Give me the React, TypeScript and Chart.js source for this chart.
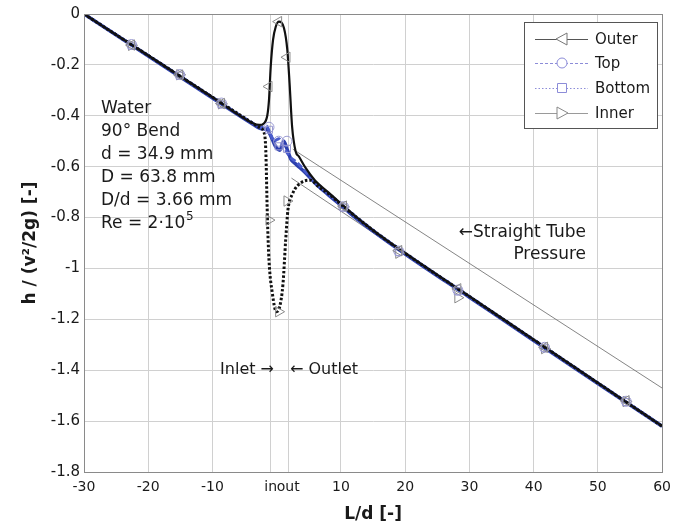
import React, { useEffect, useRef } from "react";
import { Chart, registerables } from "chart.js";

Chart.register(...registerables);

// ---------- axis ticks ----------
const X_TICKS = [-30, -20, -10, -0.93, 1.8, 10, 20, 30, 40, 50, 60];
const X_TICK_LABELS = ["-30", "-20", "-10", "in", "out", "10", "20", "30", "40", "50", "60"];
const Y_TICKS = [0, -0.2, -0.4, -0.6, -0.8, -1, -1.2, -1.4, -1.6, -1.8];
const Y_TICK_LABELS = ["0", "-0.2", "-0.4", "-0.6", "-0.8", "-1", "-1.2", "-1.4", "-1.6", "-1.8"];

// ---------- measured points (markers) ----------
const MEAS_X = [-22.6, -15.1, -8.6, -1.2, 0.3, 1.6, 10.4, 19, 28.2, 41.7, 54.4];
const OUTER_MEAS = [-0.122, -0.24, -0.352, -0.285, -0.03, -0.17, -0.755, -0.93, -1.08, -1.31, -1.52];
const TOP_MEAS = [-0.12, -0.238, -0.35, -0.445, -0.5, -0.5, -0.757, -0.932, -1.085, -1.31, -1.522];
const BOTTOM_MEAS = [-0.124, -0.242, -0.355, -0.455, -0.52, -0.53, -0.76, -0.935, -1.09, -1.312, -1.525];
const INNER_MEAS = [-0.123, -0.239, -0.353, -0.81, -1.17, -0.735, -0.758, -0.94, -1.115, -1.315, -1.523];

// ---------- fitted curves ----------
const OUTER_FIT_X = [-30, -20, -10, -3.8, -2.7, -2.0, -1.45, -1.2, -0.93, -0.57, -0.15, 0.36, 1.13, 1.65, 2.0, 2.4, 2.95, 3.46, 4.5, 6, 8, 10, 12, 15, 20, 30, 40, 50, 60];
const OUTER_FIT_Y = [0, -0.163, -0.327, -0.428, -0.436, -0.43, -0.397, -0.338, -0.207, -0.102, -0.05, -0.03, -0.055, -0.14, -0.27, -0.443, -0.54, -0.56, -0.605, -0.655, -0.7, -0.745, -0.79, -0.85, -0.94, -1.11, -1.28, -1.45, -1.62];

const INNER_FIT_X = [-30, -20, -10, -3.8, -2.6, -2.0, -1.7, -1.45, -1.2, -0.68, -0.06, 0.47, 0.98, 1.4, 1.75, 2.4, 3.97, 5.26, 6.56, 8, 10, 12, 15, 20, 30, 40, 50, 60];
const INNER_FIT_Y = [0, -0.163, -0.327, -0.428, -0.447, -0.463, -0.535, -0.797, -0.967, -1.097, -1.17, -1.15, -1.06, -0.888, -0.77, -0.71, -0.66, -0.653, -0.68, -0.705, -0.748, -0.79, -0.85, -0.94, -1.11, -1.28, -1.45, -1.62];

const TOP_FIT_X = [-30, -20, -10, -4, -2.5, -1.6, -1.0, -0.4, 0.3, 0.9, 1.5, 2.2, 3.0, 4.5, 6, 8, 10, 12, 15, 20, 30, 40, 50, 60];
const TOP_FIT_Y = [0, -0.163, -0.327, -0.425, -0.445, -0.44, -0.47, -0.5, -0.49, -0.51, -0.54, -0.565, -0.58, -0.62, -0.66, -0.705, -0.748, -0.79, -0.85, -0.94, -1.11, -1.28, -1.45, -1.62];

const BOTTOM_FIT_X = [-30, -20, -10, -4, -2.5, -1.5, -0.9, -0.2, 0.5, 1.1, 1.6, 2.2, 3.0, 4.5, 6, 8, 10, 12, 15, 20, 30, 40, 50, 60];
const BOTTOM_FIT_Y = [0, -0.165, -0.33, -0.428, -0.45, -0.455, -0.48, -0.52, -0.535, -0.5, -0.53, -0.57, -0.59, -0.625, -0.665, -0.71, -0.752, -0.795, -0.853, -0.943, -1.113, -1.283, -1.452, -1.62];

// straight tube reference lines
const STRAIGHT_UP_X = [2.5, 60];
const STRAIGHT_UP_Y = [-0.531, -1.47];
const STRAIGHT_DOWN_X = [2.3, 60];
const STRAIGHT_DOWN_Y = [-0.645, -1.62];

// ---------- texts ----------
const LEGEND_LABELS = ["Outer", "Top", "Bottom", "Inner"];
const INFO_LINES = ["Water", "90° Bend", "d = 34.9 mm", "D = 63.8 mm", "D/d = 3.66 mm"];
const RE_TEXT = "Re = 2·10";
const RE_EXP = "5";
const X_TITLE = "L/d [-]";
const Y_TITLE = "h / (v²/2g) [-]";

const FONT = '"DejaVu Sans", "Liberation Sans", Arial, sans-serif';

const pts = (xs: number[], ys: number[]) => xs.map((x, i) => ({ x, y: ys[i] }));

const overlay = {
  id: "overlay",
  afterDraw(chart: any) {
    const { ctx, chartArea: ca } = chart;
    ctx.save();
    // frame
    ctx.strokeStyle = "#8a8a8a";
    ctx.lineWidth = 1;
    ctx.setLineDash([]);
    ctx.strokeRect(Math.round(ca.left) + 0.5, Math.round(ca.top) + 0.5, Math.round(ca.right - ca.left), Math.round(ca.bottom - ca.top));

    // info block
    ctx.fillStyle = "#1a1a1a";
    ctx.font = `17px ${FONT}`;
    ctx.textAlign = "left";
    ctx.textBaseline = "alphabetic";
    INFO_LINES.forEach((t, i) => ctx.fillText(t, 101, 113 + i * 23));
    const reY = 113 + INFO_LINES.length * 23;
    ctx.fillText(RE_TEXT, 101, reY);
    const w = ctx.measureText(RE_TEXT).width;
    ctx.font = `12px ${FONT}`;
    ctx.fillText(RE_EXP, 101 + w + 0.5, reY - 8);

    // straight tube label
    ctx.font = `17px ${FONT}`;
    ctx.textAlign = "right";
    ctx.fillText("←Straight Tube", 586, 237);
    ctx.fillText("Pressure", 586, 259);

    // inlet / outlet
    ctx.font = `16px ${FONT}`;
    ctx.textAlign = "right";
    ctx.fillText("Inlet →", 274, 374);
    ctx.textAlign = "left";
    ctx.fillText("← Outlet", 290, 374);

    // legend
    const lx = 524.5, ly = 22.5, lw = 133, lh = 106;
    ctx.fillStyle = "#ffffff";
    ctx.fillRect(lx, ly, lw, lh);
    ctx.strokeStyle = "#555";
    ctx.lineWidth = 1;
    ctx.strokeRect(lx, ly, lw, lh);
    const rows = [39, 63, 88, 113];
    const styles = [
      { color: "#555", dash: [] as number[], mcolor: "#777" },
      { color: "#8c8cd8", dash: [3, 2], mcolor: "#8c8cd8" },
      { color: "#8c8cd8", dash: [1.5, 2], mcolor: "#8c8cd8" },
      { color: "#9a9a9a", dash: [] as number[], mcolor: "#888" },
    ];
    rows.forEach((y, i) => {
      const s = styles[i];
      ctx.strokeStyle = s.color;
      ctx.lineWidth = 1;
      ctx.setLineDash(s.dash);
      ctx.beginPath();
      ctx.moveTo(535, y + 0.5);
      ctx.lineTo(588, y + 0.5);
      ctx.stroke();
      ctx.setLineDash([]);
      const cx = 562;
      ctx.fillStyle = "#fff";
      ctx.strokeStyle = s.mcolor;
      ctx.beginPath();
      if (i === 0) {
        ctx.moveTo(cx - 6, y);
        ctx.lineTo(cx + 5, y - 6);
        ctx.lineTo(cx + 5, y + 6);
        ctx.closePath();
      } else if (i === 1) {
        ctx.arc(cx, y, 5, 0, Math.PI * 2);
      } else if (i === 2) {
        ctx.rect(cx - 4.5, y - 4.5, 9, 9);
      } else {
        ctx.moveTo(cx + 6, y);
        ctx.lineTo(cx - 5, y - 6);
        ctx.lineTo(cx - 5, y + 6);
        ctx.closePath();
      }
      ctx.fill();
      ctx.stroke();
      ctx.fillStyle = "#1a1a1a";
      ctx.font = `15px ${FONT}`;
      ctx.textAlign = "left";
      ctx.textBaseline = "middle";
      ctx.fillText(LEGEND_LABELS[i], 595, y + 1);
    });
    ctx.restore();
  },
};

export default function App() {
  const ref = useRef<HTMLCanvasElement | null>(null);

  useEffect(() => {
    if (!ref.current) return;
    const markerBase = {
      showLine: false,
      pointRadius: 6,
      pointBorderWidth: 1,
      pointBackgroundColor: "rgba(255,255,255,0)",
      order: 0,
    };
    const chart = new Chart(ref.current, {
      type: "scatter",
      data: {
        datasets: [
          { ...markerBase, label: "Outer", data: pts(MEAS_X, OUTER_MEAS), pointStyle: "triangle", rotation: -90, pointBorderColor: "#8a8a8a", borderColor: "#8a8a8a" },
          { ...markerBase, label: "Top", data: pts(MEAS_X, TOP_MEAS), pointStyle: "circle", pointRadius: 5, pointBorderColor: "#9a9ad2", borderColor: "#9a9ad2" },
          { ...markerBase, label: "Bottom", data: pts(MEAS_X, BOTTOM_MEAS), pointStyle: "rect", pointRadius: 5, pointBorderColor: "#9a9ad2", borderColor: "#9a9ad2" },
          { ...markerBase, label: "Inner", data: pts(MEAS_X, INNER_MEAS), pointStyle: "triangle", rotation: 90, pointBorderColor: "#8a8a8a", borderColor: "#8a8a8a" },
          { label: "outer fit", data: pts(OUTER_FIT_X, OUTER_FIT_Y), showLine: true, pointRadius: 0, borderColor: "#111", borderWidth: 2.2, cubicInterpolationMode: "monotone", order: 1 },
          { label: "inner fit", data: pts(INNER_FIT_X, INNER_FIT_Y), showLine: true, pointRadius: 0, borderColor: "#111", borderWidth: 3, borderDash: [2.5, 2], cubicInterpolationMode: "monotone", order: 1 },
          { label: "top fit", data: pts(TOP_FIT_X, TOP_FIT_Y), showLine: true, pointRadius: 0, borderColor: "#4a5ccc", borderWidth: 3, borderDash: [6, 3], cubicInterpolationMode: "monotone", order: 2 },
          { label: "bottom fit", data: pts(BOTTOM_FIT_X, BOTTOM_FIT_Y), showLine: true, pointRadius: 0, borderColor: "#2c3fae", borderWidth: 3.5, cubicInterpolationMode: "monotone", order: 2 },
          { label: "straight up", data: pts(STRAIGHT_UP_X, STRAIGHT_UP_Y), showLine: true, pointRadius: 0, borderColor: "#666", borderWidth: 0.8, order: 3 },
          { label: "straight down", data: pts(STRAIGHT_DOWN_X, STRAIGHT_DOWN_Y), showLine: true, pointRadius: 0, borderColor: "#666", borderWidth: 0.8, order: 3 },
        ],
      },
      options: {
        animation: false,
        responsive: false,
        devicePixelRatio: 1,
        layout: { padding: { top: 14, right: 13, left: 0, bottom: 0 } },
        plugins: { legend: { display: false }, tooltip: { enabled: false } },
        scales: {
          x: {
            type: "linear",
            min: -30,
            max: 60,
            afterBuildTicks: (scale: any) => {
              scale.ticks = X_TICKS.map((v) => ({ value: v }));
            },
            afterFit: (scale: any) => {
              scale.height = 57;
            },
            ticks: {
              autoSkip: false,
              maxRotation: 0,
              minRotation: 0,
              padding: 7,
              color: "#1a1a1a",
              font: { family: FONT, size: 14 },
              callback: (v: any) => {
                const i = X_TICKS.indexOf(Number(v));
                return i >= 0 ? X_TICK_LABELS[i] : "";
              },
            },
            grid: { color: "#d0d0d0", lineWidth: 1, drawTicks: false },
            border: { display: true, color: "#8a8a8a" },
            title: { display: true, text: X_TITLE, color: "#1a1a1a", font: { family: FONT, size: 17, weight: "bold" }, padding: { top: 0, bottom: 4 } },
          },
          y: {
            type: "linear",
            min: -1.8,
            max: 0,
            afterBuildTicks: (scale: any) => {
              scale.ticks = Y_TICKS.map((v) => ({ value: v }));
            },
            afterFit: (scale: any) => {
              scale.width = 84;
            },
            ticks: {
              autoSkip: false,
              padding: 4,
              color: "#1a1a1a",
              font: { family: FONT, size: 15 },
              callback: (v: any) => {
                const i = Y_TICKS.findIndex((t) => Math.abs(t - Number(v)) < 1e-6);
                return i >= 0 ? Y_TICK_LABELS[i] : "";
              },
            },
            grid: { color: "#d0d0d0", lineWidth: 1, drawTicks: false },
            border: { display: true, color: "#8a8a8a" },
            title: { display: true, text: Y_TITLE, color: "#1a1a1a", font: { family: FONT, size: 17, weight: "bold" }, padding: { top: 20, bottom: 0 } },
          },
        },
      },
      plugins: [overlay],
    } as any);
    return () => chart.destroy();
  }, []);

  return (
    <div style={{ position: "absolute", left: 0, top: 0, width: 678, height: 529, background: "#fff" }}>
      <canvas ref={ref} width={678} height={529} style={{ display: "block" }} />
    </div>
  );
}
